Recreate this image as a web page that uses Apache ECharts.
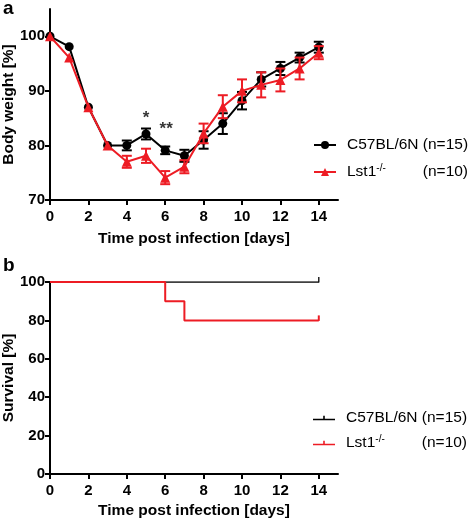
<!DOCTYPE html>
<html>
<head>
<meta charset="utf-8">
<script src="https://cdn.jsdelivr.net/npm/echarts@6/dist/echarts.min.js"></script>
<style>html,body{margin:0;padding:0;background:#fff}#c{width:472px;height:520px}</style>
</head>
<body>
<div id="c"></div>
<script>
// ---- data ----
var days = [0,1,2,3,4,5,6,7,8,9,10,11,12,13,14];
var wtMean = [100,98.1,87,80,80,82.1,79.1,78.1,81,84,88.2,92.1,94.1,96.1,98];
var wtErr  = [0,0,0,0,0.9,1,0.7,1.1,1.6,1.9,1.6,1.3,1.2,0.9,1];
var koMean = [100,96.1,87,80,77,78.1,74.1,76.1,82.2,87.1,90,91.1,92,94.1,97];
var koErr  = [0,0,0,0,1.1,1.3,1.2,1.2,1.8,2.1,2.1,2.3,2.1,2,1.2];
var sigMarks = [[5, 84.9, '*'], [6.05, 82.9, '**']];
var wtSurv = [[0,100],[14,100]];
var koSurv = [[0,100],[6,90],[7,80],[14,80]];
var wtCensor = [[14,100]];
var koCensor = [[14,80]];
var xTicks = [0,2,4,6,8,10,12,14];
var yTicksA = [70,80,90,100];
var yTicksB = [0,20,40,60,80,100];
var names = {wtA:'C57BL/6N (n=15)', koA:'Lst1-/- (n=10)', wtB:'C57BL/6N (n=15) ', koB:'Lst1-/- (n=10) '};

var RED = '#ed1c24', BLK = '#000';
var FONT = 'Liberation Sans, Arial, sans-serif';

function pair(m, e) { return days.map(function(d,i){ return [d, m[i]-e[i], m[i]+e[i], e[i]]; }).filter(function(r){return r[3] > 0;}); }
function pts(m) { return days.map(function(d,i){ return [d, m[i]]; }); }

function errRender(color) {
  return function(params, api) {
    var x = api.value(0);
    var p1 = api.coord([x, api.value(1)]), p2 = api.coord([x, api.value(2)]);
    var w = 5;
    var st = {stroke: color, lineWidth: 2};
    return {type:'group', children:[
      {type:'line', shape:{x1:p1[0], y1:p1[1], x2:p2[0], y2:p2[1]}, style:st},
      {type:'line', shape:{x1:p1[0]-w, y1:p1[1], x2:p1[0]+w, y2:p1[1]}, style:st},
      {type:'line', shape:{x1:p2[0]-w, y1:p2[1], x2:p2[0]+w, y2:p2[1]}, style:st}
    ]};
  };
}
function censorRender(color, lw) {
  return function(params, api) {
    var p = api.coord([api.value(0), api.value(1)]);
    return {type:'line', shape:{x1:p[0], y1:p[1]+0.5, x2:p[0], y2:p[1]-5}, style:{stroke:color, lineWidth:lw}};
  };
}

function xAxis(idx, gap) {
  return {
    type:'value', gridIndex: idx, min:0, max:15,
    name:'Time post infection [days]', nameLocation:'middle', nameGap: gap, nameMoveOverlap:false,
    nameTextStyle:{fontFamily:FONT, fontSize:15.5, fontWeight:'bold', color:BLK},
    axisLine:{show:true, onZero:false, lineStyle:{color:BLK, width:2}},
    axisTick:{show:true, length:5, lineStyle:{color:BLK, width:2}, customValues:xTicks},
    axisLabel:{fontFamily:FONT, fontSize:15, fontWeight:'bold', color:BLK, margin:9, customValues:xTicks},
    splitLine:{show:false}
  };
}
function yAxis(idx, min, max, ticks, name) {
  return {
    type:'value', gridIndex: idx, min:min, max:max,
    name:name, nameLocation:'middle', nameGap:33, nameMoveOverlap:false,
    nameTextStyle:{fontFamily:FONT, fontSize:15.5, fontWeight:'bold', color:BLK},
    axisLine:{show:true, lineStyle:{color:BLK, width:2}},
    axisTick:{show:true, length:5, lineStyle:{color:BLK, width:2}, customValues:ticks},
    axisLabel:{fontFamily:FONT, fontSize:15, fontWeight:'bold', color:BLK, margin:5, customValues:ticks},
    splitLine:{show:false}
  };
}

var rich = {
  g:{width:6, lineHeight:18},
  n:{fontFamily:FONT, fontSize:15.5, color:BLK, lineHeight:18},
  l:{fontFamily:FONT, fontSize:15.5, color:BLK, lineHeight:18},
  s:{fontFamily:FONT, fontSize:10, color:BLK, lineHeight:11, verticalAlign:'top', width:46.5}
};
function legendFmt(name) {
  if (name.indexOf('C57') === 0) return '{g|}{n|C57BL/6N (n=15)}';
  return '{g|}{l|Lst1}{s|-/-}{n|(n=10)}';
}
var survIcon = 'path://M0,4.4L22,4.4L22,6L0,6Z M10.2,1.4L11.8,1.4L11.8,6L10.2,6Z';

var option = {
  animation:false,
  backgroundColor:'#fff',
  grid:[
    {left:50, top:9, width:288, height:191, outerBoundsMode:'none', containLabel:false},
    {left:50, top:282, width:288, height:192, outerBoundsMode:'none', containLabel:false}
  ],
  xAxis:[xAxis(0, 31), xAxis(1, 29)],
  yAxis:[yAxis(0, 70, 105, yTicksA, 'Body weight [%]'), yAxis(1, 0, 100, yTicksB, 'Survival [%]')],
  legend:[
    {orient:'vertical', left:313, top:137, padding:0, itemWidth:22, itemHeight:10, itemGap:10,
     data:[names.wtA, names.koA], formatter:legendFmt, textStyle:{rich:rich}, selectedMode:false},
    {orient:'vertical', left:313, top:410, padding:0, itemWidth:22, itemHeight:8, itemGap:8,
     data:[{name:names.wtB, icon:survIcon, itemStyle:{color:BLK}}, {name:names.koB, icon:survIcon, itemStyle:{color:RED}}],
     formatter:legendFmt, textStyle:{rich:rich}, selectedMode:false}
  ],
  graphic:[
    {type:'text', left:3, top:-1, style:{text:'a', font:'bold 19px ' + FONT, fill:BLK}},
    {type:'text', left:3, top:256, style:{text:'b', font:'bold 19px ' + FONT, fill:BLK}}
  ],
  series:[
    {type:'custom', name:'wtErr', xAxisIndex:0, yAxisIndex:0, renderItem:errRender(BLK), data:pair(wtMean, wtErr), encode:{x:0, y:[1,2]}, z:2},
    {type:'line', name:names.wtA, xAxisIndex:0, yAxisIndex:0, data:pts(wtMean), symbol:'circle', symbolSize:9,
     itemStyle:{color:BLK}, lineStyle:{color:BLK, width:2}, z:3},
    {type:'custom', name:'koErr', xAxisIndex:0, yAxisIndex:0, renderItem:errRender(RED), data:pair(koMean, koErr), encode:{x:0, y:[1,2]}, z:4},
    {type:'line', name:names.koA, xAxisIndex:0, yAxisIndex:0, data:pts(koMean), symbol:'triangle', symbolSize:10,
     itemStyle:{color:RED}, lineStyle:{color:RED, width:2}, z:5},
    {type:'scatter', name:'sig', xAxisIndex:0, yAxisIndex:0, data:sigMarks, symbolSize:0, z:6,
     label:{show:true, position:'inside', formatter:function(p){return p.value[2];}, fontFamily:FONT, fontSize:17, fontWeight:'bold', color:BLK}},
    {type:'line', name:names.wtB, xAxisIndex:1, yAxisIndex:1, data:wtSurv, step:'end', showSymbol:false, symbol:'none',
     itemStyle:{color:BLK}, lineStyle:{color:BLK, width:1.3}, z:3},
    {type:'line', name:names.koB, xAxisIndex:1, yAxisIndex:1, data:koSurv, step:'end', showSymbol:false, symbol:'none',
     itemStyle:{color:RED}, lineStyle:{color:RED, width:2}, z:4},
    {type:'custom', name:'wtCens', xAxisIndex:1, yAxisIndex:1, renderItem:censorRender(BLK, 1.3), data:wtCensor, encode:{x:0, y:1}, z:5},
    {type:'custom', name:'koCens', xAxisIndex:1, yAxisIndex:1, renderItem:censorRender(RED, 2), data:koCensor, encode:{x:0, y:1}, z:5}
  ]
};
var chart = echarts.init(document.getElementById('c'), null, {renderer:'canvas'});
chart.setOption(option);
</script>
</body>
</html>
